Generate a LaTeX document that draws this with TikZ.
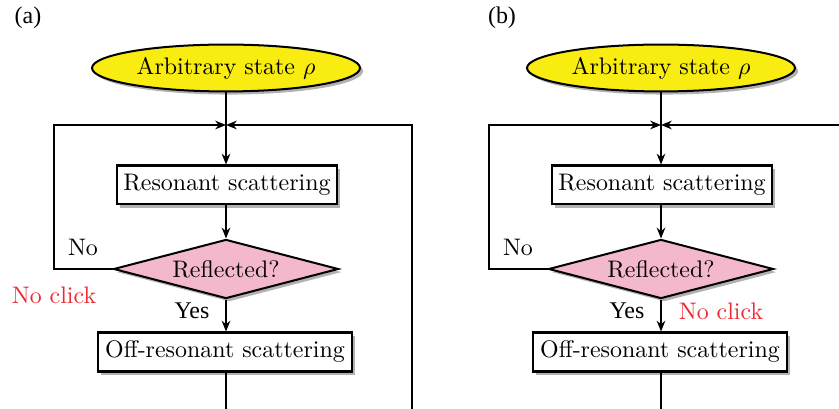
\documentclass[tikz,border=0pt]{standalone}
\usepackage{fontspec}
\newfontfamily\timesfont{Liberation Serif}
\usetikzlibrary{shapes.geometric,shadows,arrows.meta}
\definecolor{stateyellow}{RGB}{248,236,16}
\definecolor{decpink}{RGB}{244,184,204}
\definecolor{clickred}{RGB}{238,40,50}
\tikzset{
  flow/.style={line width=0.84pt},
  arr/.style={flow,-{Stealth[length=4.5pt,width=3.6pt]}},
  shadowed/.style={drop shadow={shadow xshift=1.3pt,shadow yshift=-1.3pt,fill=black!55,opacity=0.55}},
  startnode/.style={ellipse,draw,line width=0.84pt,fill=stateyellow,minimum width=112pt,minimum height=19.6pt,inner sep=0pt,shadowed},
  procbox/.style={rectangle,draw,line width=0.84pt,fill=white,minimum height=16.3pt,inner sep=0pt,shadowed},
  decision/.style={diamond,draw,line width=0.84pt,fill=decpink,minimum width=94pt,minimum height=24.7pt,aspect=3.8,inner sep=0pt,shadowed},
  tlabel/.style={font=\timesfont},
  clicklabel/.style={text=clickred},
}
\begin{document}
\begin{tikzpicture}[x=0.418pt,y=-0.418pt]
\clip (0,0) rectangle (839,409);
% ---------- panel (a) ----------
\node[tlabel] (laba) at (28,18) {(a)};
\node[startnode] (sa) at (226,68) {Arbitrary state $\rho$};
\coordinate (ja) at (226,125);
\node[procbox,minimum width=92pt] (ra) at (227,185) {Resonant scattering};
\node[decision] (da) at (226,269) {Reflected?};
\node[procbox,minimum width=106.2pt] (oa) at (225,352) {Off-resonant scattering};
\coordinate (lta) at (54,125);
\coordinate (lba) at (54,269);
\coordinate (rta) at (412,125);
\coordinate (rba) at (412,440);
\coordinate (bba) at (226,440);
\draw[arr] (sa.south) -- (sa.south |- ra.north);
\draw[arr] (ra.south -| da.north) -- (da.north);
\draw[arr] (da.south) -- (da.south |- oa.north);
\draw[arr] (da.west) -- (lba) -- (lta) -- (ja);
\draw[arr] (oa.south -| bba) -- (bba) -- (rba) -- (rta) -- (ja);
\node (noa) at (83,247) {No};
\node[clicklabel] (nca) at (54,295) {No click};
\node[tlabel] (ya) at (192,311) {Yes};
% ---------- panel (b) ----------
\node[tlabel] (labb) at (502,18) {(b)};
\begin{scope}[shift={(435,0)}]
\node[startnode] (sb) at (226,68) {Arbitrary state $\rho$};
\coordinate (jb) at (226,125);
\node[procbox,minimum width=92pt] (rb) at (227,185) {Resonant scattering};
\node[decision] (db) at (226,269) {Reflected?};
\node[procbox,minimum width=106.2pt] (ob) at (225,352) {Off-resonant scattering};
\coordinate (ltb) at (54,125);
\coordinate (lbb) at (54,269);
\coordinate (rtb) at (412,125);
\coordinate (rbb) at (412,440);
\coordinate (bbb) at (226,440);
\draw[arr] (sb.south) -- (sb.south |- rb.north);
\draw[arr] (rb.south -| db.north) -- (db.north);
\draw[arr] (db.south) -- (db.south |- ob.north);
\draw[arr] (db.west) -- (lbb) -- (ltb) -- (jb);
\draw[arr] (ob.south -| bbb) -- (bbb) -- (rbb) -- (rtb) -- (jb);
\node (nob) at (83,247) {No};
\node[tlabel] (yb) at (192,311) {Yes};
\node[clicklabel] (ncb) at (286,311) {No click};
\end{scope}
\end{tikzpicture}
\end{document}
